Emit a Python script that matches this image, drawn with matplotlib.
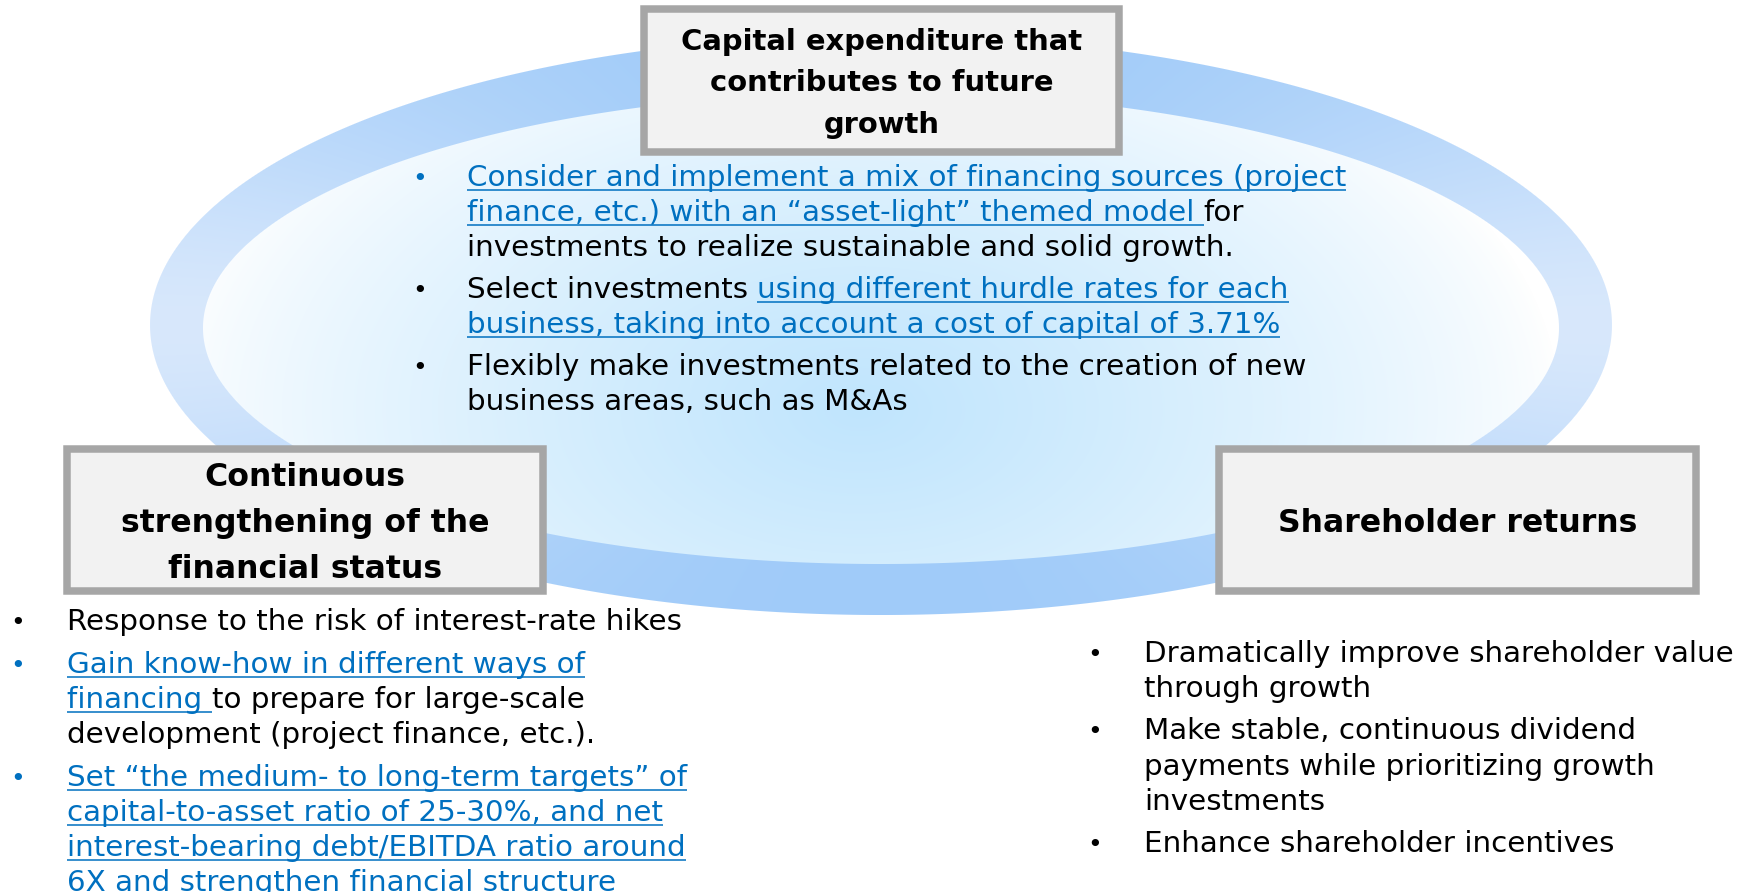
import numpy as np
import matplotlib
matplotlib.use("Agg")
import matplotlib.pyplot as plt
from matplotlib.patches import Rectangle
from matplotlib.colors import to_rgb

plt.rcParams['font.family'] = ['DejaVu Sans']

W, H, DPI = 1752, 892, 100
BLUE = "#0070C0"
BLACK = "#000000"

# ---------------- content ----------------
box_titles = [
    ["Capital expenditure that", "contributes to future", "growth"],
    ["Continuous", "strengthening of the", "financial status"],
    ["Shareholder returns"],
]

# each item: (bullet is blue, lines); each line: list of (text, is_link)
top_items = [
    (True, [[("Consider and implement a mix of financing sources (project", True)],
            [("finance, etc.) with an \u201casset-light\u201d themed model ", True), ("for", False)],
            [("investments to realize sustainable and solid growth.", False)]]),
    (False, [[("Select investments ", False), ("using different hurdle rates for each", True)],
             [("business, taking into account a cost of capital of 3.71%", True)]]),
    (False, [[("Flexibly make investments related to the creation of new", False)],
             [("business areas, such as M&As", False)]]),
]

left_items = [
    (False, [[("Response to the risk of interest-rate hikes", False)]]),
    (True, [[("Gain know-how in different ways of", True)],
            [("financing ", True), ("to prepare for large-scale", False)],
            [("development (project finance, etc.).", False)]]),
    (True, [[("Set \u201cthe medium- to long-term targets\u201d of", True)],
            [("capital-to-asset ratio of 25-30%, and net", True)],
            [("interest-bearing debt/EBITDA ratio around", True)],
            [("6X and strengthen financial structure", True)]]),
]

right_items = [
    (False, [[("Dramatically improve shareholder value", False)],
             [("through growth", False)]]),
    (False, [[("Make stable, continuous dividend", False)],
             [("payments while prioritizing growth", False)],
             [("investments", False)]]),
    (False, [[("Enhance shareholder incentives", False)]]),
]

# ---------------- figure ----------------
fig = plt.figure(figsize=(W / DPI, H / DPI), dpi=DPI)
ax = fig.add_axes([0, 0, 1, 1])
ax.set_xlim(0, W)
ax.set_ylim(H, 0)
ax.axis('off')
renderer = fig.canvas.get_renderer()


def tw(s, size, weight='normal'):
    t = ax.text(0, 0, "|" + s + "|", fontsize=size, fontweight=weight)
    w1 = t.get_window_extent(renderer).width
    t.remove()
    t = ax.text(0, 0, "||", fontsize=size, fontweight=weight)
    w2 = t.get_window_extent(renderer).width
    t.remove()
    return w1 - w2


# ---------------- background ring ----------------
yy, xx = np.mgrid[0:H, 0:W].astype(float) + 0.5


def ell_alpha(cx, cy, a, b):
    r = np.sqrt(((xx - cx) / a) ** 2 + ((yy - cy) / b) ** 2)
    g = np.sqrt(((xx - cx) / a ** 2) ** 2 + ((yy - cy) / b ** 2) ** 2) / np.maximum(r, 1e-6)
    d = (1 - r) / np.maximum(g, 1e-9)
    return np.clip(0.5 + d, 0, 1)


ao = ell_alpha(881, 325, 731, 290)
ai = ell_alpha(881, 328, 678, 236)

gd = np.sqrt(((xx - 860) / 700) ** 2 + ((yy - 410) / 420) ** 2)
f = np.clip(1 - gd, 0, 1) ** 0.75
cc = np.array(to_rgb('#c0e5fd'))
fill = 1 - (1 - cc) * f[..., None]

theta = np.arctan2((yy - 325) / 290, (xx - 881) / 731)
t = np.abs(np.sin(theta)) ** 1.5
light = np.array(to_rgb('#d8e8fc'))
dark = np.array(to_rgb('#a0cbf9'))
ring = light + (dark - light) * t[..., None]

img = (1 - ao[..., None]) * 1.0 + ao[..., None] * (ring * (1 - ai[..., None]) + fill * ai[..., None])
ax.imshow(img, extent=[0, W, H, 0], zorder=0, interpolation='bilinear', aspect='auto')

# ---------------- boxes ----------------
boxes = [(640, 5, 1123, 156), (63, 445, 547, 595), (1215, 445, 1700, 595)]
fit_lines = ["Capital expenditure that", "strengthening of the", "Shareholder returns"]
fit_widths = [402, 369, 361]
spacings = [41.5, 46, 46]
bw = 7.5
for (x0, y0, x1, y1), lines, fl, fw, sp in zip(boxes, box_titles, fit_lines, fit_widths, spacings):
    ax.add_patch(Rectangle((x0 + bw / 2, y0 + bw / 2), x1 - x0 - bw, y1 - y0 - bw,
                           facecolor='#f2f2f2', edgecolor='#a6a6a6', linewidth=bw * 72 / DPI, zorder=2))
    fs = 10 * fw / tw(fl, 10, 'bold')
    em = fs * DPI / 72
    cxm = (x0 + x1) / 2
    cym = (y0 + y1) / 2
    n = len(lines)
    for i, ln in enumerate(lines):
        yc = cym + (i - (n - 1) / 2) * sp
        ax.text(cxm, yc + 0.37 * em, ln, fontsize=fs, fontweight='bold', color=BLACK,
                ha='center', va='baseline', zorder=3)

# ---------------- bullet text ----------------
body_fs = 10 * 767 / tw("investments to realize sustainable and solid growth.", 10)
body_em = body_fs * DPI / 72


def draw_block(items, bullet_x, text_x, y_start, within, between):
    y = y_start
    for k, (blue_bullet, lines) in enumerate(items):
        if k > 0:
            y += between
        for j, segs in enumerate(lines):
            if j > 0:
                y += within
            base = y + 0.36 * body_em
            if j == 0:
                ax.text(bullet_x, base, "\u2022", fontsize=body_fs * 0.85,
                        color=BLUE if blue_bullet else BLACK, ha='left', va='baseline', zorder=3)
            x = text_x
            for s, link in segs:
                w = tw(s, body_fs)
                ax.text(x, base, s, fontsize=body_fs, color=BLUE if link else BLACK,
                        ha='left', va='baseline', zorder=3)
                if link:
                    ax.plot([x, x + w], [base + 0.15 * body_em] * 2, color=BLUE,
                            lw=1.1, solid_capstyle='butt', zorder=3)
                x += w


draw_block(top_items, 412, 467, 175, 35, 42)
draw_block(left_items, 10, 67, 619, 35, 43)
draw_block(right_items, 1087, 1144, 651, 35.5, 42)

fig.savefig("out.png", dpi=DPI)
